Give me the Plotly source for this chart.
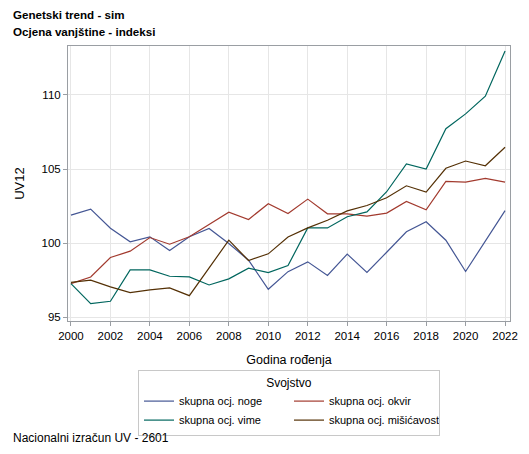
import plotly.graph_objects as go

years = list(range(2000, 2023))

noge = [101.89, 102.30, 101.01, 100.09, 100.43, 99.50, 100.43, 100.99, 99.98, 98.85, 96.89, 98.08,
        98.74, 97.82, 99.26, 98.02, 99.39, 100.77, 101.44, 100.20, 98.09, 100.14, 102.19]
okvir = [97.27, 97.72, 99.03, 99.46, 100.38, 99.93, 100.43, 101.28, 102.09, 101.60, 102.66, 102.00,
         102.97, 101.98, 101.98, 101.82, 102.03, 102.82, 102.25, 104.17, 104.12, 104.37, 104.12]
vime = [97.27, 95.92, 96.08, 98.20, 98.20, 97.77, 97.72, 97.18, 97.59, 98.31, 98.02, 98.49,
        101.03, 101.03, 101.78, 102.11, 103.47, 105.34, 105.00, 107.72, 108.72, 109.91, 112.97]
misicavost = [97.36, 97.50, 97.05, 96.67, 96.85, 96.98, 96.46, 98.36, 100.20, 98.83, 99.28, 100.42,
              101.03, 101.55, 102.18, 102.54, 103.06, 103.87, 103.45, 105.05, 105.54, 105.22, 106.47]

series_names = ["skupna ocj. noge", "skupna ocj. okvir", "skupna ocj. vime", "skupna ocj. mišićavost"]
series_values = [noge, okvir, vime, misicavost]
colors = ["#445694", "#A23A2E", "#01665E", "#543005"]

y_ticks = [95, 100, 105, 110]
x_ticks = list(range(2000, 2023, 2))

FONT = "Liberation Sans, Arial, sans-serif"

fig = go.Figure()
for name, vals, col in zip(series_names, series_values, colors):
    fig.add_trace(go.Scatter(x=years, y=vals, mode="lines", name=name,
                             line=dict(color=col, width=1.2)))

axis_common = dict(showline=True, linecolor="#9a9ea3", linewidth=1, mirror=True,
                   showgrid=True, gridcolor="#e6e6e6", gridwidth=1,
                   ticks="outside", ticklen=4, tickcolor="#9a9ea3",
                   tickfont=dict(family=FONT, size=11.5, color="#000000"),
                   zeroline=False, automargin=False)

fig.update_xaxes(range=[1999.85, 2022.25], tickvals=x_ticks,
                 title=dict(text="Godina rođenja", font=dict(family=FONT, size=12.5, color="#000"), standoff=14),
                 **axis_common)
fig.update_yaxes(range=[94.75, 113.3], tickvals=y_ticks,
                 title=dict(text="UV12", font=dict(family=FONT, size=13, color="#000"), standoff=13),
                 **axis_common)

fig.update_layout(
    width=529, height=454,
    margin=dict(l=68, r=19, t=46, b=133, autoexpand=False),
    paper_bgcolor="white", plot_bgcolor="white",
    font=dict(family=FONT, size=12, color="#000"),
    showlegend=True,
    legend=dict(orientation="h", x=(289 - 68) / 442, xanchor="center", y=(321 - 370) / 275, yanchor="top",
                title=dict(text="Svojstvo", side="top center", font=dict(family=FONT, size=12)),
                font=dict(family=FONT, size=11),
                bordercolor="#c8c8c8", borderwidth=1, bgcolor="white",
                entrywidth=105, entrywidthmode="pixels", tracegroupgap=0),
    annotations=[
        dict(text="<b>Genetski trend - sim</b>", xref="paper", yref="paper",
             x=(11 - 68) / 442, y=(321 - 15) / 275, xanchor="left", yanchor="middle",
             showarrow=False, font=dict(family=FONT, size=11.6)),
        dict(text="<b>Ocjena vanjštine - indeksi</b>", xref="paper", yref="paper",
             x=(11 - 68) / 442, y=(321 - 32) / 275, xanchor="left", yanchor="middle",
             showarrow=False, font=dict(family=FONT, size=11.6)),
        dict(text="Nacionalni izračun UV - 2601", xref="paper", yref="paper",
             x=(11 - 68) / 442, y=(321 - 438) / 275, xanchor="left", yanchor="middle",
             showarrow=False, font=dict(family=FONT, size=12)),
    ],
)

fig.write_html("out.html", config={"displayModeBar": False},
               post_script="document.body.style.margin='0';")
